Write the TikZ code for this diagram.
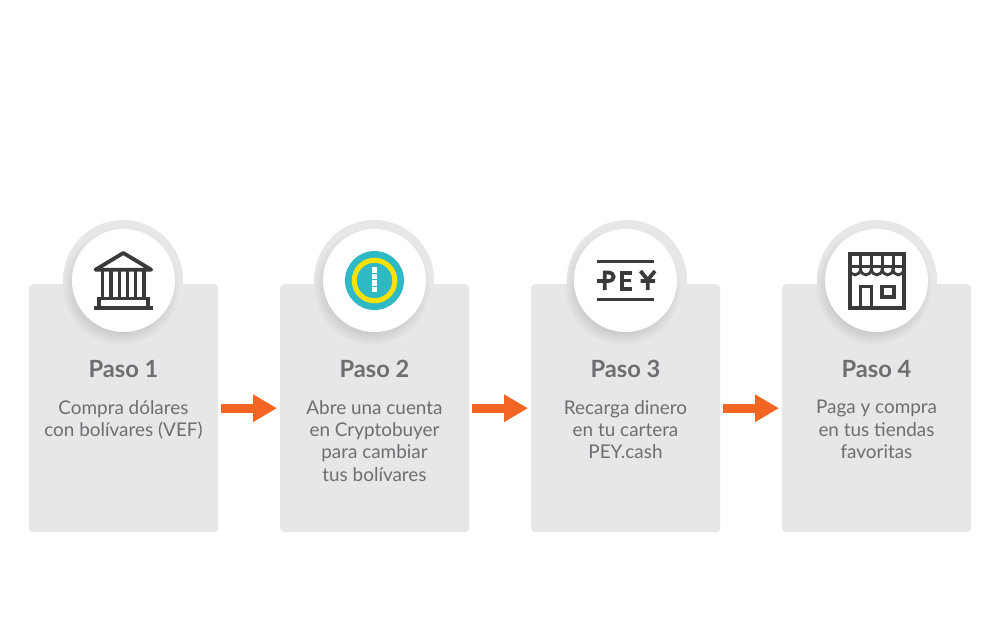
\documentclass[tikz,border=0pt]{standalone}
\usepackage{fontspec}
\setmainfont{Lato}
\usetikzlibrary{arrows.meta}
\definecolor{cardgray}{HTML}{E6E7E9}
\definecolor{txtgray}{HTML}{6D6E71}
\definecolor{icondark}{HTML}{3A3A3C}
\definecolor{flow}{HTML}{F26522}
\definecolor{tealc}{HTML}{2FB8C6}
\definecolor{yellowc}{HTML}{FFE100}
\tikzset{
  cardbox/.style={fill=cardgray,rounded corners=4pt,minimum width=189pt,minimum height=248pt,inner sep=0pt,anchor=north west},
  halo/.style={circle,fill=cardgray,minimum size=120pt,inner sep=0pt},
  disc/.style={circle,fill=white,minimum size=103pt,inner sep=0pt},
  headtxt/.style={text=txtgray,font=\fontsize{23.7}{28}\selectfont\bfseries,inner sep=0pt,anchor=base},
  bodytxt/.style={text=txtgray,font=\fontsize{18.9}{22.3}\selectfont,align=center,anchor=north,inner sep=0pt},
  flowarrow/.style={draw=flow,line width=9pt,-{Triangle[length=24pt,width=26pt]},shorten >=3pt,shorten <=3pt},
  ico/.style={draw=icondark,line width=3.8pt},
  pey/.style={draw=icondark,line width=3.8pt}
}
\begin{document}
\begin{tikzpicture}[x=1pt,y=-1pt]
\useasboundingbox (0,0) rectangle (1000,625);
\fill[white] (0,0) rectangle (1000,625);
\foreach \n/\cx/\dx/\hx in {1/29/123.5/123,2/280/374.5/374,3/531/625.5/627,4/782/876.5/877}{
  \node[cardbox] (card\n) at (\cx,284) {};
  \node[halo] (halo\n) at (\hx,280) {};
  \foreach \r in {58,56,...,46}{\fill[black,opacity=0.016] (\dx-2.5,287) circle (\r pt);}
  \node[disc] (disc\n) at (\dx,280.5) {};
}
\draw[flowarrow] (card1.east) -- (card2.west);
\draw[flowarrow] (card2.east) -- (card3.west);
\draw[flowarrow] (card3.east) -- (card4.west);
\node[headtxt] (h1) at (123.5,377.5) {Paso 1};
\node[headtxt] (h2) at (374.5,377.5) {Paso 2};
\node[headtxt] (h3) at (625.5,377.5) {Paso 3};
\node[headtxt] (h4) at (876.5,377.5) {Paso 4};
\node[bodytxt] (b1) at (123.5,400) {Compra dólares\\con bolívares (VEF)};
\node[bodytxt] (b2) at (374.5,400) {Abre una cuenta\\en Cryptobuyer\\para cambiar\\tus bolívares};
\node[bodytxt] (b3) at (625.5,400) {Recarga dinero\\en tu cartera\\PEY.cash};
\node[bodytxt] (b4) at (876.5,400) {Paga y compra\\en tus tiendas\\favoritas};
% bank
\draw[ico,line join=round] (95.5,269.7) -- (123.3,253) -- (151.2,269.7) -- cycle;
\foreach \x in {102.7,110.9,119.2,127.4,135.6,143.8}{\draw[draw=icondark,line width=3.4pt] (\x,270) -- (\x,298);}
\draw[ico] (94,308.2) -- (152.7,308.2);
\draw[ico] (99,308) -- (99,298.5) -- (147.7,298.5) -- (147.7,308);
% coin
\fill[tealc] (374.5,280.5) circle (29.5pt);
\draw[yellowc,line width=5pt] (374.5,280.5) circle (20.3pt);
\foreach \y in {267.4,273.9,280.4,286.9}{\fill[white] (371.9,\y) rectangle (376.9,\y+5.4);}
% PEY
\fill[icondark] (596.7,260) rectangle (654.3,263.4);
\fill[icondark] (596.7,297.6) rectangle (654.3,301);
\draw[pey] (604.7,290) -- (604.7,272.5) -- (608,272.5) .. controls (615.5,272.5) and (615.5,281) .. (608,281) -- (597,281);
\draw[pey] (632,272.8) -- (622,272.8) -- (622,288.6) -- (632,288.6) (622,280.5) -- (631,280.5);
\draw[pey] (640.5,271) -- (647.7,280) -- (655,271) (647.7,280) -- (647.7,290) (640.5,281) -- (655,281);
% store
\draw[ico] (849.7,254) rectangle (903.8,307.6);
\draw[ico] (849.7,266.5) -- (903.8,266.5);
\foreach \x in {849.7,860.5,871.4,882.2,893}{
  \draw[icondark,line width=2.8pt] (\x,266.5) -- (\x,268.5) .. controls (\x,277) and (\x+10.8,277) .. (\x+10.8,268.5);
  \draw[icondark,line width=3pt] (\x+10.8,253.5) -- (\x+10.8,268.5);
}
\draw[ico] (860.5,308) -- (860.5,286.5) -- (871.5,286.5) -- (871.5,308);
\draw[ico] (881.8,286.5) rectangle (894,297);
\end{tikzpicture}
\end{document}
